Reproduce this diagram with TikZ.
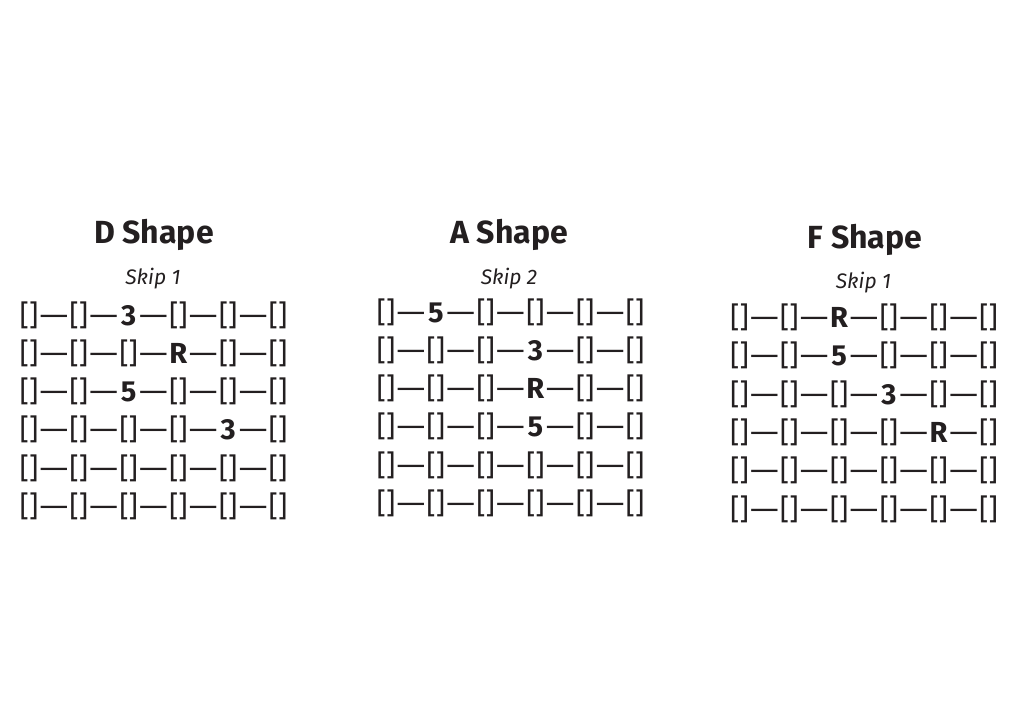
\documentclass[tikz,border=0pt]{standalone}
\usepackage{fontspec}
\setmainfont{Fira Sans}
\usepackage{xcolor}
\usepackage{tikz}
\definecolor{paper}{HTML}{FFFFFF}
\definecolor{ink}{HTML}{231F20}
\tikzset{
  shapeTitle/.style={text=ink, font=\fontsize{32}{36}\selectfont\bfseries, anchor=base, inner sep=0pt},
  skipLbl/.style={text=ink, font=\fontsize{21}{25}\selectfont\itshape, anchor=base, inner sep=0pt},
  fretCell/.style={text=ink, font=\fontsize{29}{34}\selectfont, anchor=base, inner sep=0pt},
  fretDash/.style={text=ink, font=\fontsize{29}{34}\selectfont, anchor=base, inner sep=0pt},
}
% o = empty fret, anything else is printed bold
\newcommand{\cellTxt}[1]{\if o#1[]\else\textbf{#1}\fi}
% name, centre x, baseline of first row, rows
\newcommand{\FretGrid}[4]{%
  \foreach \row [count=\r] in {#4} {
    \foreach \cl [count=\k] in \row {
      \node[fretCell] (#1-r\r-c\k) at ({#2+(\k-3.5)*49.8}, {#3+(\r-1)*38.3}) {\cellTxt{\cl}};
    }
    \foreach \k in {1,...,5} {
      \node[fretDash] (#1-r\r-d\k) at ({#2+(\k-3)*49.8}, {#3+(\r-1)*38.3}) {\scalebox{1.25}[1]{—}};
    }
  }
}

\begin{document}
\begin{tikzpicture}[x=1pt, y=-1pt]
  \fill[paper] (0,0) rectangle (1018,720);
  \useasboundingbox (0,0) rectangle (1018,720);

  % D shape
  \node[shapeTitle] (D-title) at (154,243.3) {D Shape};
  \node[skipLbl] (D-skip) at (153,284) {Skip 1};
  \FretGrid{D}{153.5}{325}{{o,o,3,o,o,o},{o,o,o,R,o,o},{o,o,5,o,o,o},{o,o,o,o,3,o},{o,o,o,o,o,o},{o,o,o,o,o,o}}

  % A shape
  \node[shapeTitle] (A-title) at (509,243.3) {A Shape};
  \node[skipLbl] (A-skip) at (509,284) {Skip 2};
  \FretGrid{A}{510.5}{322}{{o,5,o,o,o,o},{o,o,o,3,o,o},{o,o,o,R,o,o},{o,o,o,5,o,o},{o,o,o,o,o,o},{o,o,o,o,o,o}}

  % F shape
  \node[shapeTitle] (F-title) at (865,248.3) {F Shape};
  \node[skipLbl] (F-skip) at (863.5,288.3) {Skip 1};
  \FretGrid{F}{864}{327.5}{{o,o,R,o,o,o},{o,o,5,o,o,o},{o,o,o,3,o,o},{o,o,o,o,R,o},{o,o,o,o,o,o},{o,o,o,o,o,o}}
\end{tikzpicture}
\end{document}
